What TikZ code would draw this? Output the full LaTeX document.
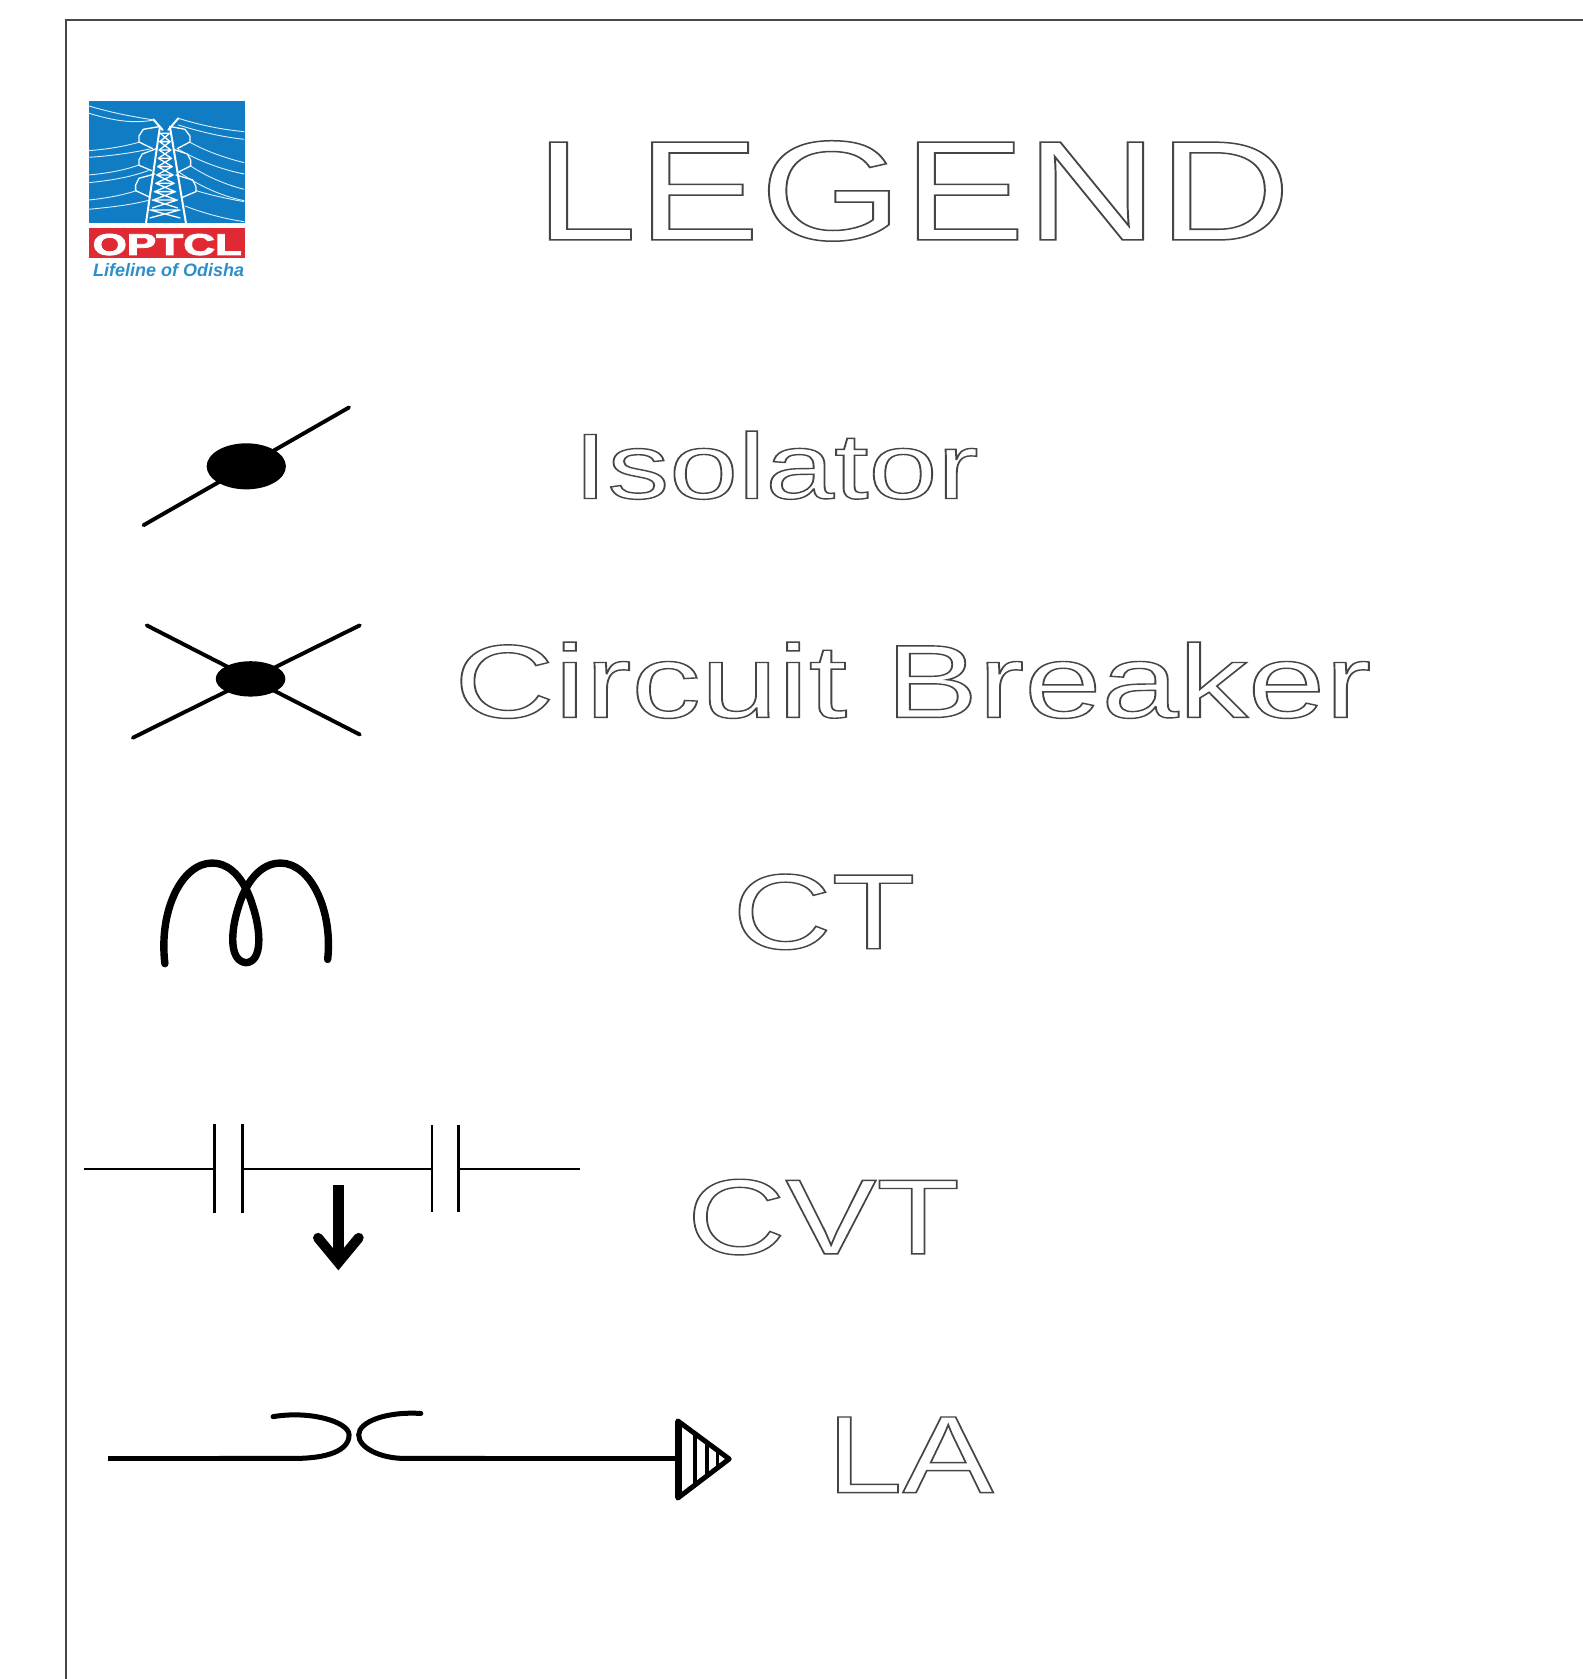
\documentclass[tikz,border=0pt]{standalone}
\usepackage{fontspec}
\usepackage{graphicx}
\setmainfont{Liberation Sans}
\definecolor{logoblue}{HTML}{0F7CC4}
\definecolor{logored}{HTML}{DF2A33}
\definecolor{logotext}{HTML}{2E8FC8}
\definecolor{towerwire}{HTML}{DCEEFA}
\newcommand{\outlinetext}[4]{\scalebox{#1}[1]{\fontsize{#2}{#2}\selectfont\special{pdf:code 1 Tr #3 w 0.27 0.27 0.27 RG}#4\special{pdf:code 0 Tr}}}
\tikzset{
  frame/.style={draw=black!72,line width=1.6pt},
  legendtext/.style={inner sep=0pt,anchor=base},
  sym/.style={draw=black,line width=3.9pt,line cap=round},
  thin sym/.style={draw=black,line width=2.4pt},
  blob/.style={fill=black,draw=none},
  wire/.style={draw=towerwire,line width=.9pt,line cap=round,line join=round},
  tower/.style={draw=white,line width=1.3pt,line cap=round,line join=round},
}
\begin{document}
\begin{tikzpicture}[x=1.07104pt,y=-1.07104pt]
\useasboundingbox (0,0) rectangle (1478,1568);
\fill[white] (0,0) rectangle (1478,1568);
\draw[frame] (61.5,1568) -- (61.5,18.5) -- (1478,18.5);

% logo, in coordinates of thirds of a pixel
\begin{scope}[shift={(65.36,74.69)},x=.3333pt,y=-.3333pt]
  \fill[logoblue] (57,62) rectangle (525,430);
  \fill[logored] (57,443) rectangle (525,535);
  \foreach \a/\b/\c in {57/78/250,57/100/252}{\draw[wire] (\a,\b) .. controls (130,\b+22) and (190,\b+32) .. (\c,120);}
  \draw[wire] (325,115) .. controls (390,135) and (450,148) .. (522,155);
  \draw[wire] (325,135) .. controls (390,155) and (450,170) .. (522,178);
  \draw[wire] (57,212) .. controls (110,208) and (160,200) .. (207,187);
  \draw[wire] (57,232) .. controls (120,228) and (180,220) .. (240,207);
  \draw[wire] (57,285) .. controls (110,280) and (160,272) .. (207,255);
  \draw[wire] (57,308) .. controls (120,302) and (180,292) .. (235,272);
  \draw[wire] (57,360) .. controls (110,355) and (160,345) .. (200,332);
  \draw[wire] (57,388) .. controls (120,382) and (185,375) .. (240,360);
  \draw[wire] (360,187) .. controls (410,215) and (470,235) .. (522,248);
  \draw[wire] (325,208) .. controls (390,245) and (460,270) .. (522,282);
  \draw[wire] (362,258) .. controls (410,290) and (470,315) .. (522,328);
  \draw[wire] (325,275) .. controls (390,320) and (460,350) .. (522,362);
  \draw[wire] (378,332) .. controls (420,345) and (480,358) .. (522,365);
  \draw[wire] (345,378) .. controls (400,400) and (470,418) .. (522,425);
  % tower
  \draw[tower,line width=2pt] (228,430) -- (270,140) (348,430) -- (300,140);
  \draw[tower,line width=2pt] (250,118) -- (278,150) (325,115) -- (295,150);
  \foreach \y/\w in {160/14,185/16,210/18,235/20,260/22,285/25,310/28,335/32,360/38,390/45}{
    \draw[tower] (285-\w,\y) -- (285+\w,\y+24) (285+\w,\y) -- (285-\w,\y+24) (285-\w,\y) -- (285+\w,\y);
  }
  \draw[tower] (268,140) -- (220,148) -- (207,168) -- (207,186) -- (248,206);
  \draw[tower] (302,140) -- (345,148) -- (360,168) -- (360,186) -- (322,206);
  \draw[tower] (262,205) -- (217,222) -- (207,240) -- (207,256) -- (245,272);
  \draw[tower] (310,208) -- (352,222) -- (362,240) -- (362,258) -- (328,275);
  \draw[tower] (255,282) -- (207,295) -- (197,315) -- (197,332) -- (240,352);
  \draw[tower] (318,285) -- (368,300) -- (378,320) -- (378,335) -- (338,352);
  \node[inner sep=0pt,text=white,anchor=base] (optcl) at (292,525) {\scalebox{1.47}[1]{\fontsize{30}{30}\selectfont\bfseries\special{pdf:code 2 Tr 0.8 w 1 1 1 RG}OPTCL\special{pdf:code 0 Tr}}};
  \node[inner sep=0pt,text=logotext,anchor=base] (lifeline) at (296,590) {\fontsize{18}{19}\selectfont\bfseries\itshape Lifeline of Odisha};
\end{scope}

% headings and labels
\node[legendtext] (legend) at (852.5,224) {\outlinetext{1.295}{142}{1.5}{LEGEND}};
\node[legendtext] (isolator) at (724.5,465.5) {\outlinetext{1.33}{93}{1.4}{Isolator}};
\node[legendtext] (cb) at (852.5,670) {\outlinetext{1.334}{104}{1.4}{Circuit Breaker}};
\node[legendtext] (ct) at (769.5,886) {\outlinetext{1.283}{107}{1.4}{CT}};
\node[legendtext] (cvt) at (769,1171) {\outlinetext{1.275}{107}{1.4}{CVT}};
\node[legendtext] (la) at (850,1394) {\outlinetext{1.24}{110}{1.4}{LA}};

% isolator
\draw[sym] (134,490.5) -- (326,380.5);
\fill[blob] (230,435.5) ellipse [x radius=37,y radius=21.5];

% circuit breaker
\draw[sym] (137,584) -- (336,686);
\draw[sym] (124,689) -- (336,584);
\fill[blob] (234,634) ellipse [x radius=32.5,y radius=16.5];

% current transformer
\draw[sym,line width=7.4pt,line join=round] (154,900)
  .. controls (148,850) and (170,806) .. (198,806)
  .. controls (218,806) and (230,826) .. (236,846)
  .. controls (244,870) and (245,898) .. (230,899)
  .. controls (214,898) and (215,870) .. (223,846)
  .. controls (229,826) and (242,806) .. (262,806)
  .. controls (290,806) and (311,850) .. (306,896);

% capacitor voltage transformer
\draw[thin sym] (78,1091.5) -- (200,1091.5) (227,1091.5) -- (403,1091.5) (428,1091.5) -- (542,1091.5);
\draw[thin sym] (200.5,1050) -- (200.5,1133) (226.5,1050) -- (226.5,1133);
\draw[thin sym] (403.5,1051) -- (403.5,1132) (428,1051) -- (428,1132);
\draw[draw=black,line width=11.5pt] (316,1107) -- (316,1172);
\draw[draw=black,line width=10pt,line cap=round,line join=miter] (297,1156) -- (316,1179) -- (335,1156);

% lightning arrester
\draw[draw=black,line width=5.6pt] (101,1362) -- (205,1362);
\draw[draw=black,line width=5pt,line cap=round] (205,1362) -- (275,1362)
  .. controls (305,1362) and (326,1355) .. (326,1340)
  .. controls (326,1328) and (290,1317) .. (255,1323);
\draw[draw=black,line width=5pt,line cap=round] (393,1320)
  .. controls (360,1318) and (335,1328) .. (335,1340)
  .. controls (335,1352) and (355,1362) .. (378,1362) -- (453,1362);
\draw[draw=black,line width=4.6pt] (453,1362) -- (632,1362);
\draw[draw=black,line width=5pt,line join=round] (633,1327) -- (681,1362.5) -- (633,1399) -- cycle;
\draw[draw=black,line width=7pt] (633.5,1327) -- (633.5,1399);
\draw[draw=black,line width=3.6pt] (649,1339) -- (649,1388) (660,1347) -- (660,1380) (670,1354) -- (670,1372);
\end{tikzpicture}
\end{document}
